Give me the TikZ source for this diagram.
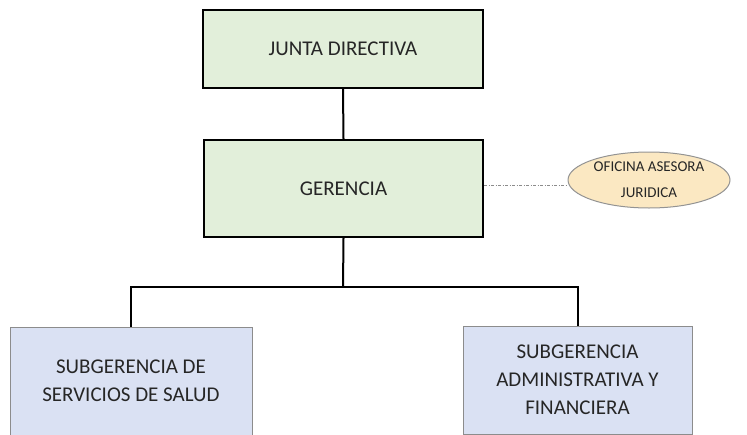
\documentclass[tikz,border=0pt]{standalone}
\usepackage{fontspec}
\setmainfont{Carlito}
\usetikzlibrary{shapes.geometric}
\definecolor{greenfill}{HTML}{E2EFDA}
\definecolor{bluefill}{HTML}{DAE1F3}
\definecolor{yellowfill}{HTML}{FBE8C2}
\definecolor{txt}{HTML}{262626}
\tikzset{
  topbox/.style={draw=black, line width=2.2pt, fill=greenfill, text=txt, inner sep=0pt,
    font=\fontsize{21}{28}\selectfont, align=center},
  subbox/.style={draw=gray!90, line width=1pt, fill=bluefill, text=txt, inner sep=0pt,
    font=\fontsize{21}{28}\selectfont, align=center},
  advisor/.style={ellipse, draw=gray!85, line width=1pt, fill=yellowfill, text=txt, inner sep=0pt,
    font=\fontsize{15}{26}\selectfont, align=center},
  link/.style={draw=black, line width=2pt},
  advlink/.style={draw=gray!90, line width=1pt, dash pattern=on 3pt off 1.5pt on 1pt off 1.5pt},
}
\begin{document}
\begin{tikzpicture}[x=1pt,y=-1pt]
\useasboundingbox (0,0) rectangle (747,434);
\clip (0,0) rectangle (747,434);
\node[topbox, minimum width=280pt, minimum height=78pt] (junta) at (343,49) {JUNTA DIRECTIVA};
\node[topbox, minimum width=279pt, minimum height=97pt] (ger) at (343.5,188.5) {GERENCIA};
\node[advisor, minimum width=162pt, minimum height=56pt] (ofi) at (649,180) {OFICINA ASESORA\\JURIDICA};
\node[subbox, minimum width=242pt, minimum height=108pt] (sl) at (131,381) {SUBGERENCIA DE\\SERVICIOS DE SALUD};
\node[subbox, minimum width=229pt, minimum height=108pt] (sr) at (577.5,380) {SUBGERENCIA\\ADMINISTRATIVA Y\\FINANCIERA};
\coordinate (bus) at (343,287);
\coordinate (dl) at ([yshift=3.5pt]ger.east);
\draw[link] (junta.south) -- (ger.north);
\draw[link] (ger.south) -- (bus);
\draw[link] (bus) -| (sl.north);
\draw[link] (bus) -| (sr.north);
\draw[advlink] (dl) -- (dl -| ofi.west);
\end{tikzpicture}
\end{document}
